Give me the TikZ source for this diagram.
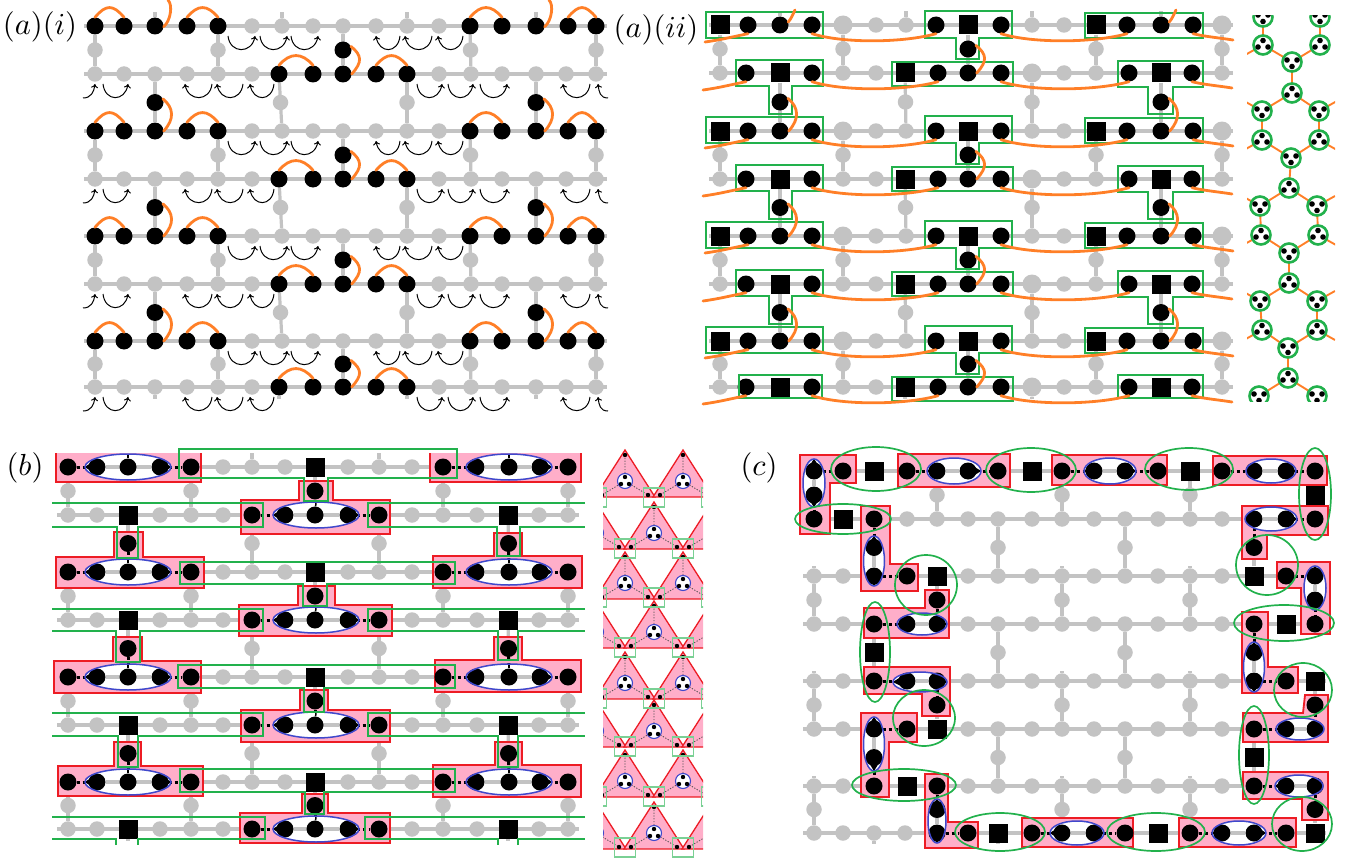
\documentclass[tikz,border=0pt]{standalone}
\usetikzlibrary{calc,shapes.geometric,arrows.meta}
\definecolor{lg}{HTML}{C3C3C3}
\definecolor{orng}{HTML}{FF7F27}
\definecolor{grn}{HTML}{22B14C}
\definecolor{rd}{HTML}{ED1C24}
\definecolor{pnk}{HTML}{FFAEC9}
\definecolor{blu}{HTML}{3F48CC}
\tikzset{
 bn/.style={circle,fill=black,inner sep=0,minimum size=17},
 gn/.style={circle,fill=lg,inner sep=0,minimum size=15.5},
 Gn/.style={circle,fill=lg,inner sep=0,minimum size=19},
 sn/.style={rectangle,fill=black,inner sep=0,minimum size=19},
 lat/.style={draw=lg,line width=3.2},
 orn/.style={draw=orng,line width=2.8,line cap=round},
 gbox/.style={draw=grn,line width=1.7},
 gell/.style={ellipse,draw=grn,line width=1.7,inner sep=0},
 bfill/.style={ellipse,fill=white,inner sep=0},
 bout/.style={ellipse,draw=blu,line width=1.5,inner sep=0},
 pshape/.style={fill=pnk,draw=rd,line width=1.8},
 dotl/.style={draw=black,line width=3,dash pattern=on 3 off 3},
 arw/.style={draw=black,line width=1,-{To[length=4,width=7]}},
 ring/.style={circle,draw=grn,line width=2.6,fill=white,inner sep=0,minimum size=19},
 hedge/.style={draw=orng,line width=1.9},
 lab/.style={scale=3.05,inner sep=0}
}
\def\layb{1}\def\lays{1}\def\layg{0}\def\layG{0}
% three passes over the lattice: name the sites, draw the bonds, draw the sites
\newcommand\RowyA[4]{\edef\rowlist{#4}\foreach \x/\t [count=\c] in \rowlist {\node[\t n,fill=none] (#1-#2-\c) at (\x,#3) {};}}
\newcommand\RowyB[4]{\draw[lat] ($(#1-#2-1)+(-11,0)$) -- ($(#1-#2-17)+(11,0)$);}
\newcommand\RowyC[4]{\edef\rowlist{#4}\foreach \x/\t [count=\c] in \rowlist {\edef\lay{\csname lay\t\endcsname}\ifnum\lay=\curlay\relax\node[\t n] (#1-#2-\c v) at (#1-#2-\c) {};\fi}}
\newcommand\VrtA[5]{\node[#5n,fill=none] (#1-#2-#3-#4) at ($(#1-#2-#4)!.5!(#1-#3-#4)$) {};}
\newcommand\VrtB[5]{\draw[lat] (#1-#2-#4) -- (#1-#3-#4);}
\newcommand\VrtC[5]{\edef\lay{\csname lay#5\endcsname}\ifnum\lay=\curlay\relax\node[#5n] (#1-#2-#3-#4v) at (#1-#2-#3-#4) {};\fi}
\newcommand\StdV[1]{%
 \foreach \a/\b in {1/2,3/4,5/6,7/8}{\Vrt{#1}{\a}{\b}{1}{g}\Vrt{#1}{\a}{\b}{5}{g}\Vrt{#1}{\a}{\b}{9}{b}\Vrt{#1}{\a}{\b}{13}{g}\Vrt{#1}{\a}{\b}{17}{g}}%
 \foreach \a/\b in {2/3,4/5,6/7}{\Vrt{#1}{\a}{\b}{3}{b}\Vrt{#1}{\a}{\b}{7}{g}\Vrt{#1}{\a}{\b}{11}{g}\Vrt{#1}{\a}{\b}{15}{b}}%
}
\newcommand\Stubs[1]{\foreach \k in {3,7,11,15}{\draw[lat] (#1-1-\k) -- +(0,-14);\draw[lat] (#1-8-\k) -- +(0,12);}}
\newcommand\OrArc[2]{\draw[orn] (#1.north) .. controls +(11,-13) and +(-11,-13) .. (#2.north);}
\newcommand\Bow[2]{\draw[orn] (#1.25) .. controls +(11,9) and +(11,-12) .. (#2.0);}
\newcommand\ArR[4]{\draw[arw] ($(#1)+(#2,10)$) .. controls +(2,18) and +(-3,18) .. ($(#3)+(#4,10)$);}
\newcommand\ArL[4]{\draw[arw] ($(#1)+(#2,10)$) .. controls +(-2,18) and +(3,18) .. ($(#3)+(#4,10)$);}
\newcommand\Wave[2]{\draw[orn] (#1.south) .. controls +(32,10) and +(-32,9) .. (#2.south);}
\newcommand\Pnk[1]{\draw[pshape] #1 -- cycle;}
\newcommand\PT[7]{\Pnk{(#1,#3)--(#5,#3)--(#5,#7)--(#6,#7)--(#6,#3)--(#2,#3)--(#2,#4)--(#1,#4)}}
\newcommand\GN[7]{\draw[gbox] (#1,#3)--(#2,#3)--(#2,#4)--(#6,#4)--(#6,#7)--(#5,#7)--(#5,#4)--(#1,#4)--cycle;}
\newcommand\GE[9]{% yt yb unused lsl lsr lsb rsl rsr rsb
 \draw[gbox] (52,#1)--(263,#1)--(263,#2)--(#5,#2)--(#5,#6)--(#4,#6)--(#4,#2)--(52,#2);
 \draw[gbox] (585,#1)--(368,#1)--(368,#2)--(#7,#2)--(#7,#9)--(#8,#9)--(#8,#2)--(585,#2);}
\newcommand\ElHA[7]{%
 \node[bfill,minimum width=2*#4,minimum height=2*#5] (#1) at (#2,#3) {};
 \draw[lat] (#6) -- (#7);
 \fill[black] (#1.west) -- ($(#6)+(0,-8)$) -- ($(#6)+(0,8)$) -- cycle;
 \fill[black] (#1.east) -- ($(#7)+(0,-8)$) -- ($(#7)+(0,8)$) -- cycle;}
\newcommand\ElVA[7]{%
 \node[bfill,minimum width=2*#4,minimum height=2*#5] (#1) at (#2,#3) {};
 \draw[lat] (#6) -- (#7);
 \fill[black] (#1.north) -- ($(#6)+(-8,0)$) -- ($(#6)+(8,0)$) -- cycle;
 \fill[black] (#1.south) -- ($(#7)+(-8,0)$) -- ($(#7)+(8,0)$) -- cycle;}
\newcommand\ElO[7]{\node[bout,minimum width=2*#4,minimum height=2*#5] (#1o) at (#2,#3) {};}
\newcommand\TickA[2]{\draw[black,line width=1.5] (#1)--(#2.north);}
\newcommand\TickO[2]{}
\newcommand\Gel[5]{\node[gell,minimum width=2*#4,minimum height=2*#5] (#1) at (#2,#3) {};}
\newcommand\Clu[4]{\node[ring] (#1v) at (#1) {};
 \fill ($(#1)+(0,-4.5*#4)$) circle[radius=2.8];
 \fill ($(#1)+(-5,2*#4)$) circle[radius=2.8];
 \fill ($(#1)+(5,2*#4)$) circle[radius=2.8];}
\newcommand\hclip{\clip (1247,16) rectangle (1335,401);}
% column data
\def\aiO{95/b,124/b,155/b,187/b,218/b,252/g,282/g,313/g,343/g,376/g,407/g,439/g,470/b,502/b,536/b,568/b,596/b}
\def\aiE{95/g,124/g,155/g,187/g,218/g,252/g,279/b,313/b,343/b,376/b,407/b,439/g,471/g,502/g,536/g,566/g,596/g}
\def\aiiO{720/s,748/b,780/b,812/b,843/G,876/g,906/g,936/b,968/s,1001/b,1032/g,1064/g,1096/s,1127/b,1161/b,1193/b,1222/G}
\def\aiiE{720/g,746/b,780/s,812/b,843/g,876/g,905/s,938/b,968/b,1001/b,1032/G,1064/g,1096/g,1129/b,1161/s,1192/b,1222/g}
\def\bO{68/b,97/b,128/b,160/b,191/b,223/g,252/g,285/g,315/s,348/g,379/g,412/g,443/b,476/b,509/b,540/b,568/b}
\def\bE{68/g,97/g,128/s,160/g,191/g,223/g,252/b,285/b,315/b,348/b,379/b,412/g,443/g,477/g,508/s,539/g,568/g}
\def\cA{814/b,843/b,874/s,907/b,937/b,968/b,998/b,1032/s,1062/b,1094/b,1125/b,1158/b,1190/s,1222/b,1254/b,1286/b,1315/b}
\def\cB{814/b,843/s,874/b,907/g,937/g,968/g,998/g,1032/g,1062/g,1094/g,1125/g,1158/g,1190/g,1222/g,1254/b,1286/b,1315/b}
\def\cC{814/g,843/g,874/b,907/b,937/s,968/g,998/g,1032/g,1062/g,1094/g,1125/g,1158/g,1190/g,1222/g,1254/s,1286/b,1315/b}
\def\cD{814/g,843/g,874/b,907/b,937/b,968/g,998/g,1032/g,1062/g,1094/g,1125/g,1158/g,1190/g,1222/g,1254/b,1286/s,1315/b}
\def\cE{814/g,843/g,874/b,907/b,937/b,968/g,998/g,1032/g,1062/g,1094/g,1125/g,1158/g,1190/g,1222/g,1254/b,1286/b,1315/s}
\def\cF{814/g,843/g,874/b,907/b,937/s,968/g,998/g,1032/g,1062/g,1094/g,1125/g,1158/g,1190/g,1222/g,1254/b,1286/b,1315/b}
\def\cG{814/g,843/g,874/b,907/s,937/b,968/g,998/g,1032/g,1062/g,1094/g,1125/g,1158/g,1190/g,1222/g,1254/b,1286/b,1315/b}
\def\cH{814/g,843/g,874/g,905/g,937/b,968/b,998/s,1032/b,1062/b,1094/b,1125/b,1158/s,1190/b,1222/b,1254/b,1286/b,1315/s}
\newcommand\AllLattice{%
 \foreach \r/\y/\ll in {1/26/\aiO,2/74/\aiE,3/131/\aiO,4/179/\aiE,5/236/\aiO,6/284/\aiE,7/341/\aiO,8/387/\aiE}{\Rowy{ai}{\r}{\y}{\ll}}%
 \StdV{ai}%
 \foreach \r/\y/\ll in {1/25/\aiiO,2/73/\aiiE,3/131/\aiiO,4/179/\aiiE,5/236/\aiiO,6/284/\aiiE,7/341/\aiiO,8/387/\aiiE}{\Rowy{aii}{\r}{\y}{\ll}}%
 \StdV{aii}%
 \foreach \r/\y/\ll in {1/467/\bO,2/515/\bE,3/572/\bO,4/620/\bE,5/677/\bO,6/725/\bE,7/782/\bO,8/829/\bE}{\Rowy{b}{\r}{\y}{\ll}}%
 \StdV{b}%
 \foreach \r/\y/\ll in {1/471/\cA,2/519/\cB,3/576/\cC,4/624/\cD,5/681/\cE,6/729/\cF,7/786/\cG,8/833/\cH}{\Rowy{c}{\r}{\y}{\ll}}%
 \Vrt{c}{1}{2}{1}{b}\Vrt{c}{1}{2}{5}{g}\Vrt{c}{1}{2}{9}{g}\Vrt{c}{1}{2}{13}{g}\Vrt{c}{1}{2}{17}{s}%
 \Vrt{c}{2}{3}{3}{b}\Vrt{c}{2}{3}{7}{g}\Vrt{c}{2}{3}{11}{g}\Vrt{c}{2}{3}{15}{b}%
 \Vrt{c}{3}{4}{1}{g}\Vrt{c}{3}{4}{5}{b}\Vrt{c}{3}{4}{9}{g}\Vrt{c}{3}{4}{13}{g}\Vrt{c}{3}{4}{17}{b}%
 \Vrt{c}{4}{5}{3}{s}\Vrt{c}{4}{5}{7}{g}\Vrt{c}{4}{5}{11}{g}\Vrt{c}{4}{5}{15}{b}%
 \Vrt{c}{5}{6}{1}{g}\Vrt{c}{5}{6}{5}{b}\Vrt{c}{5}{6}{9}{g}\Vrt{c}{5}{6}{13}{g}\Vrt{c}{5}{6}{17}{b}%
 \Vrt{c}{6}{7}{3}{b}\Vrt{c}{6}{7}{7}{g}\Vrt{c}{6}{7}{11}{g}\Vrt{c}{6}{7}{15}{s}%
 \Vrt{c}{7}{8}{1}{g}\Vrt{c}{7}{8}{5}{b}\Vrt{c}{7}{8}{9}{g}\Vrt{c}{7}{8}{13}{g}\Vrt{c}{7}{8}{17}{b}%
}
\newcommand\AllEll{%
 \foreach \r/\y in {1/467,3/572,5/677,7/782}{%
  \ElH{bL\r}{128}{\y}{43}{13}{b-\r-2}{b-\r-4}%
  \ElH{bR\r}{509}{\y}{43}{13}{b-\r-14}{b-\r-16}%
  \Tick{b-\r-3}{bL\r}\Tick{b-\r-15}{bR\r}%
 }%
 \foreach \r/\y in {2/515,4/620,6/725,8/829}{%
  \ElH{bM\r}{316}{\y}{43}{13}{b-\r-8}{b-\r-10}%
  \Tick{b-\r-9}{bM\r}%
 }%
 \ElV{cb1}{814}{483}{11}{24}{c-1-1}{c-1-2-1}%
 \ElH{cb2}{954}{471}{27}{13}{c-1-5}{c-1-6}%
 \ElH{cb3}{1110}{471}{26}{13}{c-1-10}{c-1-11}%
 \ElH{cb4}{1271}{471}{25}{12}{c-1-15}{c-1-16}%
 \ElH{cb5}{1271}{519}{26}{12}{c-2-15}{c-2-16}%
 \ElV{cb6}{1315}{588}{11}{22}{c-3-17}{c-3-4-17}%
 \ElV{cb7}{874}{561}{10.5}{25}{c-2-3-3}{c-3-3}%
 \ElH{cb8}{922}{624}{25}{11}{c-4-4}{c-4-5}%
 \ElH{cb9}{920}{682}{27}{10}{c-5-4}{c-5-5}%
 \ElV{cb10}{874}{744}{10.5}{27}{c-6-3}{c-6-7-3}%
 \ElH{cb11}{1300}{729}{24}{11}{c-6-16}{c-6-17}%
 \ElH{cb12}{1299}{786}{24}{11}{c-7-16}{c-7-17}%
 \ElV{cb13}{1254}{667}{10.5}{25}{c-4-5-15}{c-5-15}%
 \ElV{cb14}{937}{821}{9}{22}{c-7-8-5}{c-8-5}%
 \ElH{cb15}{1077}{833}{27}{12}{c-8-9}{c-8-10}%
 \ElH{cb16}{1239}{833}{27}{12}{c-8-14}{c-8-15}%
}
\begin{document}
\begin{tikzpicture}[x=1pt,y=-1pt]
\useasboundingbox (0,0) rectangle (1361,859);
\node[lab] (lai) at (40,27) {$(a)(i)$};
\node[lab] (laii) at (656,30) {$(a)(ii)$};
\node[lab] (lb) at (25,468) {$(b)$};
\node[lab] (lc) at (759,468) {$(c)$};
% pass 1: sites named
\let\Rowy\RowyA\let\Vrt\VrtA\AllLattice
% pass 2: bonds
\let\Rowy\RowyB\let\Vrt\VrtB\AllLattice
\Stubs{ai}\Stubs{aii}\Stubs{b}
\foreach \r in {3,5,7}{\foreach \k in {1,9,13}{\draw[lat] (c-\r-\k) -- +(0,-10);}}
\foreach \k in {3,7,11,15}{\draw[lat] (c-8-\k) -- +(0,11);}
% pass 3: grey sites
\def\curlay{0}\let\Rowy\RowyC\let\Vrt\VrtC\AllLattice
% pink regions of (b)
\fill[pnk] (56,453) rectangle (201,482);\draw[rd,line width=1.8] (56,453)--(56,482)--(201,482)--(201,453);
\fill[pnk] (430,453) rectangle (581,482);\draw[rd,line width=1.8] (430,453)--(430,482)--(581,482)--(581,453);
\PT{241}{390}{500}{534}{299}{333}{481}
\PT{56}{204}{557}{588}{114}{143}{532}
\PT{433}{582}{556}{588}{494}{522}{533}
\PT{239}{392}{605}{636}{298}{335}{586}
\PT{54}{201}{661}{693}{113}{142}{637}
\PT{435}{581}{660}{692}{494}{522}{637}
\PT{241}{390}{710}{742}{300}{328}{690}
\PT{58}{203}{766}{796}{114}{141}{742}
\PT{433}{581}{765}{797}{495}{522}{742}
\PT{240}{390}{813}{843}{302}{328}{794}
% pink regions of (c)
\Pnk{(800,455)--(856,455)--(856,483)--(830,483)--(830,534)--(800,534)}
\Pnk{(898,454)--(1010,454)--(1010,487)--(898,487)}
\Pnk{(1052,455)--(1167,455)--(1167,485)--(1052,485)}
\Pnk{(1213,456)--(1327,456)--(1327,485)--(1213,485)}
\Pnk{(1242,506)--(1328,506)--(1328,535)--(1267,535)--(1267,559)--(1242,559)}
\Pnk{(1277,562)--(1330,562)--(1330,634)--(1301,634)--(1301,588)--(1277,588)}
\Pnk{(1242,612)--(1268,612)--(1268,667)--(1298,667)--(1298,693)--(1242,693)}
\Pnk{(1243,713)--(1303,713)--(1305,695)--(1328,695)--(1328,742)--(1243,742)}
\Pnk{(1243,772)--(1328,772)--(1328,820)--(1302,820)--(1302,799)--(1243,799)}
\Pnk{(1179,818)--(1296,818)--(1296,847)--(1179,847)}
\Pnk{(1022,818)--(1133,818)--(1133,847)--(1022,847)}
\Pnk{(925,774)--(948,774)--(948,822)--(978,822)--(978,848)--(925,848)}
\Pnk{(861,713)--(917,713)--(917,742)--(889,742)--(889,797)--(861,797)}
\Pnk{(864,667)--(950,667)--(950,716)--(922,716)--(922,694)--(864,694)}
\Pnk{(864,608)--(925,608)--(925,590)--(949,590)--(949,638)--(864,638)}
\Pnk{(861,506)--(890,506)--(890,564)--(918,564)--(918,591)--(861,591)}
% dotted links
\foreach \r in {1,3,5,7}{\draw[dotl] (b-\r-1)--(b-\r-2);\draw[dotl] (b-\r-4)--(b-\r-5);\draw[dotl] (b-\r-13)--(b-\r-14);\draw[dotl] (b-\r-16)--(b-\r-17);}
\foreach \r in {2,4,6,8}{\draw[dotl] (b-\r-7)--(b-\r-8);\draw[dotl] (b-\r-10)--(b-\r-11);}
\foreach \a/\b in {1/2,3/4,5/6,7/8}{\draw[dotl] (b-\a-\b-9)--(b-\b-9);}
\foreach \a/\b in {2/3,4/5,6/7}{\draw[dotl] (b-\a-\b-3)--(b-\b-3);\draw[dotl] (b-\a-\b-15)--(b-\b-15);}
\foreach \a/\b in {c-1-1/c-1-2,c-1-4/c-1-5,c-1-6/c-1-7,c-1-9/c-1-10,c-1-11/c-1-12,c-1-14/c-1-15,c-1-16/c-1-17,c-1-2-1/c-2-1,c-2-3/c-2-3-3,c-3-3/c-3-4,c-4-3/c-4-4,c-2-16/c-2-17,c-2-15/c-2-3-15,c-3-16/c-3-17,c-3-4-17/c-4-17,c-3-4-5/c-4-5,c-4-15/c-4-5-15,c-5-3/c-5-4,c-5-15/c-5-16,c-5-5/c-5-6-5,c-5-6-17/c-6-17,c-6-3/c-6-4,c-6-15/c-6-16,c-6-7-3/c-7-3,c-7-15/c-7-16,c-7-5/c-7-8-5,c-7-17/c-7-8-17,c-8-5/c-8-6,c-8-8/c-8-9,c-8-10/c-8-11,c-8-13/c-8-14,c-8-15/c-8-16}{\draw[dotl] (\a)--(\b);}
% ellipse interiors, then black sites, then ellipse outlines
\let\ElH\ElHA\let\ElV\ElVA\let\Tick\TickA\AllEll
\def\curlay{1}\AllLattice
\let\ElH\ElO\let\ElV\ElO\let\Tick\TickO\AllEll
%% ---------- panel (a)(i) decorations
\foreach \r in {1,3,5,7}{
 \OrArc{ai-\r-1}{ai-\r-2}\OrArc{ai-\r-4}{ai-\r-5}\OrArc{ai-\r-13}{ai-\r-14}\OrArc{ai-\r-16}{ai-\r-17}
 \ArR{ai-\r-5}{10}{ai-\r-6}{3}\ArR{ai-\r-6}{8}{ai-\r-7}{5}\ArR{ai-\r-7}{9}{ai-\r-8}{5}
 \ArL{ai-\r-11}{-7}{ai-\r-10}{0}\ArL{ai-\r-12}{-7}{ai-\r-11}{-2}\ArL{ai-\r-13}{-7}{ai-\r-12}{-1}
}
\foreach \r in {2,4,6,8}{
 \OrArc{ai-\r-7}{ai-\r-8}\OrArc{ai-\r-10}{ai-\r-11}
 \ArR{ai-\r-1}{8}{ai-\r-2}{4}
 \ArL{ai-\r-5}{-6}{ai-\r-4}{-2}\ArL{ai-\r-6}{-9}{ai-\r-5}{-1}\ArL{ai-\r-7}{-5}{ai-\r-6}{-2}
 \ArR{ai-\r-11}{10}{ai-\r-12}{3}\ArR{ai-\r-12}{9}{ai-\r-13}{2}\ArR{ai-\r-13}{9}{ai-\r-14}{5}
 \ArL{ai-\r-17}{-6}{ai-\r-16}{-3}
 \draw[arw] ($(ai-\r-1)+(-12,24)$) .. controls +(8,0) and +(-1,8) .. ($(ai-\r-1)+(0,10)$);
 \draw[arw] ($(ai-\r-17)+(12,24)$) .. controls +(-8,0) and +(1,8) .. ($(ai-\r-17)+(2,10)$);
}
\foreach \a/\b in {1/2,3/4,5/6,7/8}{\Bow{ai-\a-\b-9}{ai-\b-9}}
\foreach \a/\b in {2/3,4/5,6/7}{\Bow{ai-\a-\b-3}{ai-\b-3}\Bow{ai-\a-\b-15}{ai-\b-15}}
\foreach \k in {3,15}{\draw[orn] (ai-1-\k.-5) .. controls +(7,-6) and +(5,5) .. ($(ai-1-\k)+(13,-26)$);}
%% ---------- panel (a)(ii) decorations
\foreach \k in {0,1,2,3}{
 \begin{scope}[shift={(0,105*\k)}]
 \draw[gbox] (706,12) rectangle (823,38);
 \draw[gbox] (925,11)--(1012,11)--(1012,38)--(979,38)--(979,59)--(956,59)--(956,38)--(925,38)--cycle;
 \draw[gbox] (1085,13) rectangle (1203,38);
 \draw[gbox] (892,62) rectangle (1013,86);
 \end{scope}
}
\foreach \k in {0,1,2}{
 \begin{scope}[shift={(0,105*\k)}]
 \draw[gbox] (736,60)--(823,60)--(823,86)--(792,86)--(792,114)--(769,114)--(769,86)--(736,86)--cycle;
 \draw[gbox] (1118,61)--(1203,61)--(1203,87)--(1173,87)--(1173,114)--(1148,114)--(1148,87)--(1118,87)--cycle;
 \end{scope}
}
\draw[gbox] (739,375) rectangle (822,398);
\draw[gbox] (1118,375) rectangle (1203,398);
\foreach \r in {1,...,8}{
 \Wave{aii-\r-4}{aii-\r-8}\Wave{aii-\r-10}{aii-\r-14}
 \draw[orn] ($(aii-\r-2)+(-43,17)$) .. controls +(15,-2) and +(-15,3) .. (aii-\r-2.south);
 \draw[orn] (aii-\r-16.south) .. controls +(12,3) and +(-12,-2) .. ($(aii-\r-16)+(40,15)$);
}
\foreach \a/\b in {1/2,3/4,5/6,7/8}{\Bow{aii-\a-\b-9}{aii-\b-9}}
\foreach \a/\b in {2/3,4/5,6/7}{\Bow{aii-\a-\b-3}{aii-\b-3}\Bow{aii-\a-\b-15}{aii-\b-15}}
\foreach \k in {3,15}{\draw[orn] (aii-1-\k.20) .. controls +(3,-3) and +(-2,4) .. ($(aii-1-\k)+(15,-15)$);}
%% ---------- honeycomb
\begin{scope}\hclip
\foreach \n/\x/\y in {L1/1263/17,R1/1320/17,L2/1263/45,R2/1320/45,C1/1292/62,C2/1292/93,L3/1262/111,R3/1319/111,L4/1262/140,R4/1319/140,C3/1291/158,C4/1289/188,L5/1260/206,R5/1317/206,L6/1261/235,R6/1318/235,C5/1289/253,C6/1289/283,L7/1260/301,R7/1317/301,L8/1262/330,R8/1317/330,C7/1288/348,C8/1288/378,L9/1259/396,R9/1317/396}{\coordinate (\n) at (\x,\y);}
\foreach \a/\b in {L1/L2,R1/R2,L2/C1,R2/C1,C1/C2,C2/L3,C2/R3,L3/L4,R3/R4,L4/C3,R4/C3,C3/C4,C4/L5,C4/R5,L5/L6,R5/R6,L6/C5,R6/C5,C5/C6,C6/L7,C6/R7,L7/L8,R7/R8,L8/C7,R8/C7,C7/C8,C8/L9,C8/R9}{\draw[hedge] (\a) -- (\b);}
\foreach \a/\dy in {L2/10,L3/-10,L4/10,L5/-10,L6/10,L7/-10,L8/10}{\draw[hedge] (\a) -- +(-18,\dy);}
\foreach \a/\dy in {R3/-10,R4/10,R5/-10,R6/10,R7/-10,R8/10}{\draw[hedge] (\a) -- +(18,\dy);}
\foreach \n/\s in {L1/-1,R1/-1,L2/1,R2/1,C1/-1,C2/1,L3/-1,R3/-1,L4/1,R4/1,C3/-1,C4/1,L5/-1,R5/-1,L6/1,R6/1,C5/-1,C6/1,L7/-1,R7/-1,L8/1,R8/1,C7/-1,C8/1,L9/-1,R9/-1}{\Clu{\n}{}{}{\s}}
\end{scope}
%% ---------- panel (b) green frames
\GN{179}{457}{449}{478}{304}{328}{501}
\GN{180}{455}{562}{584}{303}{327}{606}
\GN{178}{455}{665}{688}{304}{324}{712}
\GN{180}{455}{769}{792}{305}{324}{814}
\GE{503}{527}{0}{117}{138}{558}{497}{520}{556}
\GE{609}{631}{0}{116}{140}{662}{498}{518}{660}
\GE{713}{736}{0}{118}{138}{767}{498}{518}{767}
% last row: the stems run off, open at the bottom
\draw[gbox] (52,817)--(265,817)--(265,839)--(138,839)--(138,845);
\draw[gbox] (116,845)--(116,839)--(52,839);
\draw[gbox] (585,817)--(365,817)--(365,839)--(498,839)--(498,845);
\draw[gbox] (518,845)--(518,839)--(585,839);
%% triangles of (b)
\begin{scope}
\clip (603,447) rectangle (703,859);
\foreach \y/\xs in {450/{567,625,683,741},502/{596,654,712},552/{567,625,683,741},601/{596,654,712},652/{567,625,683,741},700/{596,654,712},750/{567,625,683,741},802/{596,654,712}}{
 \foreach \x in \xs {
  \fill[pnk] (\x,\y)--(\x+30,\y+47)--(\x-30,\y+47)--cycle;
  \draw[rd,line width=1.3] (\x,\y)--(\x+30,\y+47)--(\x-30,\y+47)--cycle;
  \draw[black!70,line width=.8,dash pattern=on 1.2 off 1.6] (\x,\y+5)--(\x,\y+31)--(\x+23,\y+45);
  \draw[black!70,line width=.8,dash pattern=on 1.2 off 1.6] (\x,\y+31)--(\x-23,\y+45);
  \fill (\x,\y+5) circle[radius=2.2];
  \fill (\x+23,\y+45) circle[radius=2.2];
  \fill (\x-23,\y+45) circle[radius=2.2];
  \draw[blu,line width=1.1,fill=white] (\x,\y+31) circle[radius=7.5];
  \fill (\x,\y+27) circle[radius=2.2];
  \fill (\x-4,\y+34) circle[radius=2.2];
  \fill (\x+4,\y+34) circle[radius=2.2];
 }
}
\foreach \y/\xs in {488/{596,654,712},539/{625,683},588/{596,654,712},638/{625,683},689/{596,654,712},737/{625,683},787/{596,654,712},838/{625,683}}{
 \foreach \x in \xs {\draw[grn!60,line width=1.1] (\x-10.5,\y) rectangle (\x+10.5,\y+19);}
}
\end{scope}
%% ---------- panel (c) green ellipses
\Gel{cg1}{876}{469}{45}{22}
\Gel{cg2}{1031}{470}{45}{22}
\Gel{cg3}{1189}{469}{44}{21}
\Gel{cg4}{1315}{494}{16}{46}
\Gel{cg5}{843}{519}{48}{15}
\Gel{cg6}{926}{585}{31}{30}
\Gel{cg7}{1267}{565}{31}{30}
\Gel{cg8}{1284}{623}{50}{18}
\Gel{cg9}{875}{652}{15}{50}
\Gel{cg10}{924}{718}{31}{28}
\Gel{cg11}{1303}{690}{29}{27}
\Gel{cg12}{1254}{755}{15}{49}
\Gel{cg13}{904}{785}{52}{16}
\Gel{cg14}{1000}{832}{45}{19}
\Gel{cg15}{1156}{832}{49}{19}
\Gel{cg16}{1302}{824}{30}{27}
\end{tikzpicture}
\end{document}
